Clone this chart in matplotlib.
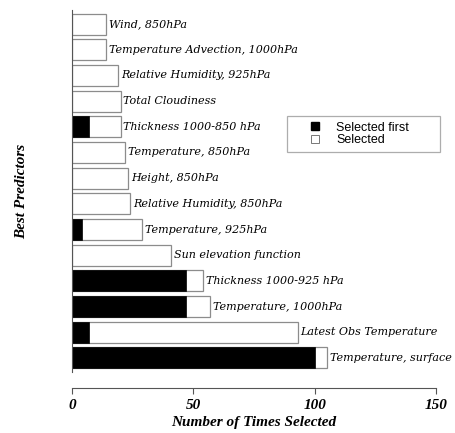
import matplotlib
matplotlib.use("Agg")
import matplotlib.pyplot as plt
from matplotlib.lines import Line2D

# predictors, bottom to top
predictors = [
    "Temperature, surface", "Latest Obs Temperature", "Temperature, 1000hPa",
    "Thickness 1000-925 hPa", "Sun elevation function", "Temperature, 925hPa",
    "Relative Humidity, 850hPa", "Height, 850hPa", "Temperature, 850hPa",
    "Thickness 1000-850 hPa", "Total Cloudiness", "Relative Humidity, 925hPa",
    "Temperature Advection, 1000hPa", "Wind, 850hPa",
]
selected_first = [100, 7, 47, 47, 0, 4, 0, 0, 0, 7, 0, 0, 0, 0]
selected_total = [105, 93, 57, 54, 41, 29, 24, 23, 22, 20, 20, 19, 14, 14]
xticks = [0, 50, 100, 150]

fig = plt.figure(figsize=(4.55, 4.33), dpi=100)
ax = fig.add_axes([72/455, 1-372/433, 364/455, 362/433])

# spines first (set_position resets the ticks)
for s in ["top", "right"]:
    ax.spines[s].set_visible(False)
ax.spines["bottom"].set_position(("outward", 11.5))
ax.spines["bottom"].set_color("#555555")
ax.spines["left"].set_color("#555555")

ypos = list(range(len(predictors)))
ax.barh(ypos, selected_total, height=0.82, color="white", edgecolor="#8c8c8c", linewidth=0.9)
ax.barh(ypos, selected_first, height=0.82, color="black", edgecolor="black", linewidth=0.5)

for y, v, name in zip(ypos, selected_total, predictors):
    ax.text(v + 1.2, y, name, va="center", ha="left", fontsize=8,
            family="DejaVu Serif", style="italic")

ax.set_xlim(0, 150)
ax.set_ylim(-0.55, 13.55)
ax.set_xticks(xticks)
ax.set_xticklabels([str(t) for t in xticks], family="Liberation Serif",
                   fontweight="bold", style="italic", fontsize=11)
ax.set_yticks([])
ax.tick_params(axis="x", length=4, color="#555555", pad=4)

ax.set_xlabel("Number of Times Selected", family="Liberation Serif",
              fontweight="bold", style="italic", fontsize=11, labelpad=3)
fig.text(22/455, 1-191/433, "Best Predictors", rotation=90, va="center", ha="center",
         family="Liberation Serif", fontweight="bold", style="italic", fontsize=11)

handles = [
    Line2D([], [], marker="s", linestyle="none", markersize=6,
           markerfacecolor="black", markeredgecolor="black"),
    Line2D([], [], marker="s", linestyle="none", markersize=6,
           markerfacecolor="white", markeredgecolor="#777777", markeredgewidth=0.7),
]
leg = fig.legend(handles, ["Selected first", "Selected"],
                 bbox_to_anchor=(287/455, 1-152/433, 153/455, 36/433),
                 loc="upper left", mode="expand", fancybox=False,
                 prop={"family": "Liberation Sans", "size": 9},
                 handlelength=3.5, handletextpad=0.0, borderpad=0.45,
                 labelspacing=0.05, borderaxespad=0)
leg.get_frame().set_edgecolor("#999999")
leg.get_frame().set_linewidth(0.9)

fig.savefig("out.png", dpi=100)
